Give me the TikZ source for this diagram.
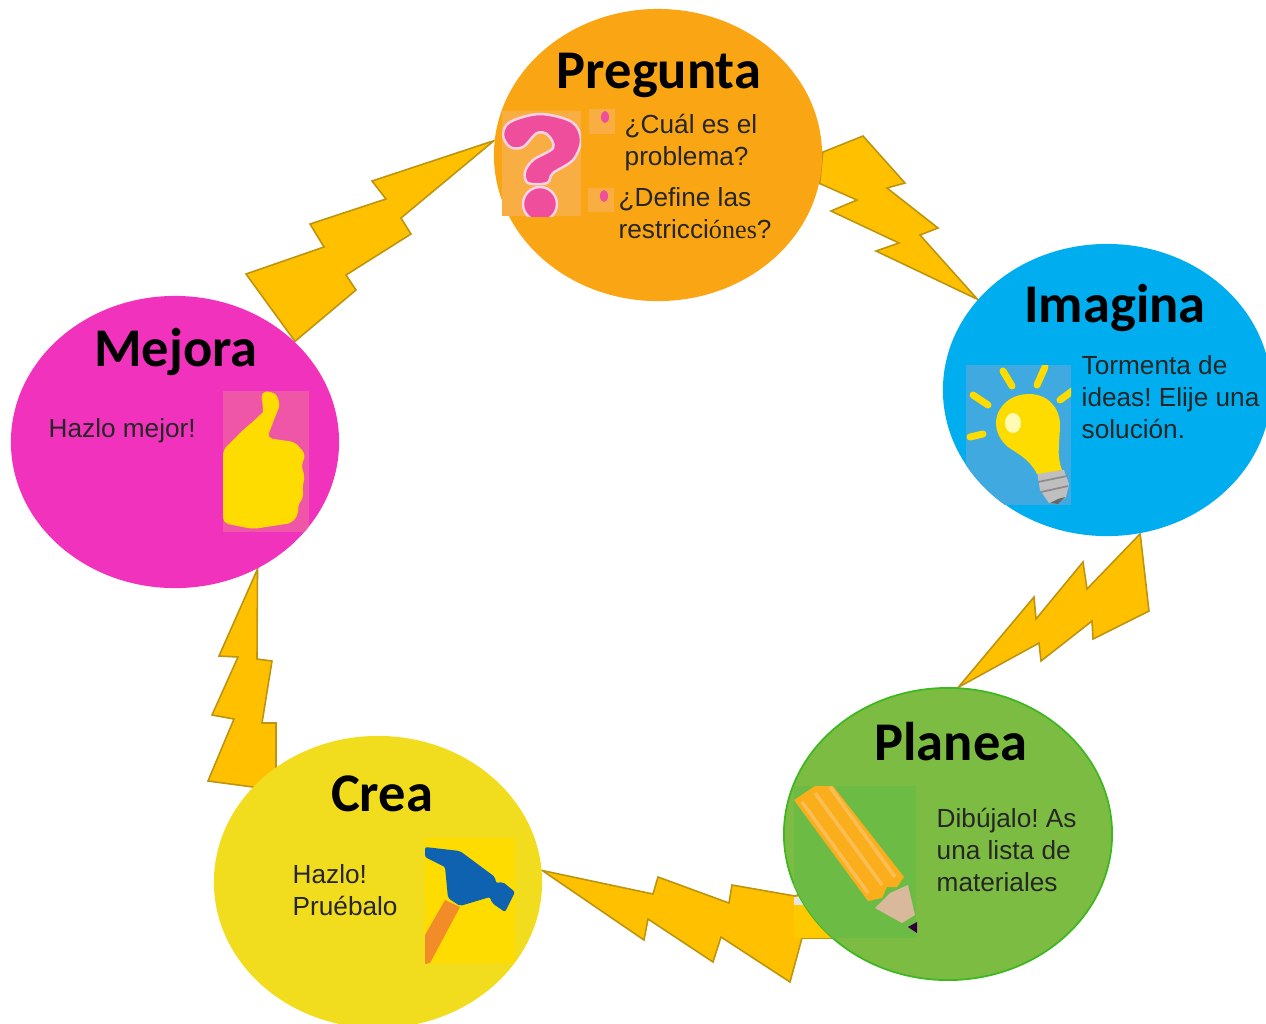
\documentclass[tikz,border=0pt]{standalone}
\usepackage{fontspec}
\setmainfont{Liberation Sans}
\newfontfamily\titlefont{Carlito}
\newfontfamily\oddfont{Liberation Serif}
\usepackage{tikz}
\usetikzlibrary{shapes.geometric, backgrounds}
\definecolor{naranja}{HTML}{FAA614}
\definecolor{azul}{HTML}{00AEEF}
\definecolor{verde}{HTML}{7CBC42}
\definecolor{amarillo}{HTML}{F2DC1E}
\definecolor{magenta}{HTML}{F032BC}
\definecolor{rayo}{HTML}{FFC000}
\definecolor{rayoborde}{HTML}{BC9410}
\definecolor{rosa}{HTML}{EE4E9B}
\definecolor{sol}{HTML}{FFDC00}
\definecolor{fondonaranja}{HTML}{F8AE42}
\definecolor{fondoazul}{HTML}{3FA9E0}
\definecolor{fondoverde}{HTML}{6CBB45}
\definecolor{fondorosa}{HTML}{F056A8}
\definecolor{lapiz}{HTML}{FBAE1C}
\definecolor{lapizclaro}{HTML}{FBBE55}
\definecolor{punta}{HTML}{D9B99B}
\definecolor{martillo}{HTML}{0F62B0}
\definecolor{mango}{HTML}{F28C28}
\tikzset{
  stage/.style = {ellipse, inner sep=0pt, minimum width=3.28cm, minimum height=2.92cm},
  titulo/.style = {font=\titlefont\fontsize{15.5}{18}\selectfont\bfseries, text=black, inner sep=0pt, anchor=base},
  cuerpo/.style = {font=\fontsize{7.45}{9.1}\selectfont\frenchspacing, text=black!85, align=left, anchor=west, inner sep=0pt},
  bolt/.style = {fill=rayo, draw=rayoborde, line width=0.45pt, line join=miter},
  rayito/.style = {draw=sol, line width=0.07cm, line cap=round},
  signo/.style = {fill=rosa, draw=white!75!rosa, line width=0.7pt}
}
\begin{document}
\begin{tikzpicture}[x=0.01cm, y=-0.01cm]
\useasboundingbox (0,0) rectangle (1266,1023);

\node[stage, fill=naranja] (pregunta) at (658,155) {};
\node[stage, fill=azul] (imagina) at (1107,390) {};
\node[stage, fill=verde, draw=green!40!verde!85!black, line width=0.5pt] (planea) at (948,834) {};
\node[stage, fill=amarillo] (crea) at (378,882) {};
\node[stage, fill=magenta] (mejora) at (175,442) {};

\begin{pgfonlayer}{background}
% mejora to pregunta
\draw[bolt] (pregunta.175) -- (372,181) -- (386,199) -- (310,224) -- (324,247) -- (246,274)
  -- (mejora.40) -- (356,290) -- (346,275) -- (411,234) -- (401,218) -- cycle;
% pregunta to imagina
\draw[bolt] (pregunta.1) -- (863,136) -- (905,183) -- (887,188) -- (938,228) -- (920,235)
  -- (imagina.145) -- (876,251) -- (899,243) -- (831,211) -- (857,200) -- (pregunta.-10) -- cycle;
% imagina to planea
\draw[bolt] (imagina.-77) -- (1149,611) -- (1093,639) -- (1092,621) -- (1041,661) -- (1039,643)
  -- (planea.86) -- (1034,597) -- (1036,619) -- (1083,562) -- (1087,589) -- cycle;
% planea to crea
\draw[bolt] (crea.4) -- (653,894) -- (658,877) -- (729,903) -- (732,885) -- (795,896)
  -- (planea.center) -- (840,938) -- (802,938) -- (790,982) -- (721,937) -- (713,962)
  -- (648,919) -- (644,940) -- cycle;
\fill[black!10] (794,897) rectangle (806,906);
\fill[rayo!85!yellow] (794,905) rectangle (840,938);
% crea to mejora
\draw[bolt] (mejora.-57) -- (219,656) -- (238,657) -- (212,715) -- (234,719) -- (208,781)
  -- (253,787) -- (crea.center) -- (276,790) -- (276,723) -- (262,723) -- (272,661) -- (257,659) -- cycle;
\end{pgfonlayer}

% pregunta icon
\fill[fondonaranja] (502,111) rectangle (581,216);
\fill[fondonaranja] (589,109) rectangle (615,134);
\fill[fondonaranja] (588,188) rectangle (614,212);
\fill[rosa] (605,117) ellipse [x radius=4, y radius=6];
\fill[rosa] (604,196) ellipse [x radius=4, y radius=6];
\begin{scope}
\clip (502,111) rectangle (581,216);
\draw[signo] plot[smooth cycle, tension=0.55] coordinates {(503,135) (510,122) (540,114) (572,122) (581,140) (573,160)
  (553,173) (547,183) (528,183) (525,172) (533,160) (553,148) (548,135) (537,133) (523,147) (510,147)};
\draw[signo] (540,204) circle [radius=17];
\end{scope}

% imagina icon
\begin{scope}
\clip (imagina.center) ellipse [x radius=164, y radius=147];
\fill[fondoazul] (966,365) rectangle (1071,505);
\end{scope}
\begin{scope}
\clip (966,365) rectangle (1071,505);
\foreach \xa/\ya/\xb/\yb in {1003/371/1012/386, 1045/367/1037/385, 973/395/988/405, 970/437/983/434, 1060/400/1075/389}
  \draw[rayito] (\xa,\ya) -- (\xb,\yb);
\fill[black!25] (1037,472) -- (1064,470) -- (1069,484) -- (1066,497) -- (1058,504) -- (1049,503) -- (1040,490) -- cycle;
\draw[black!45, line width=0.5pt] (1038,482) -- (1067,476) (1041,492) -- (1068,486);
\fill[black!60] (1050,503) -- (1058,499) -- (1065,497) -- (1058,504) -- cycle;
\fill[sol] (996,422) .. controls (997,405) and (1012,394) .. (1029,394) .. controls (1048,394) and (1060,408) .. (1060,425)
  .. controls (1060,440) and (1056,455) .. (1062,470) -- (1037,474) .. controls (1030,460) and (1020,455) .. (1008,447)
  .. controls (1000,440) and (996,432) .. (996,422) -- cycle;
\fill[yellow!30!white] (1013,423) ellipse [x radius=8, y radius=10];
\end{scope}

% planea icon
\begin{scope}
\clip (planea.center) ellipse [x radius=164, y radius=146];
\fill[fondoverde] (794,786) rectangle (916,938);
\end{scope}
\fill[lapiz] (794,800) -- (815,786) -- (833,786) -- (904,877) -- (897,887) -- (887,887) -- (882,898) -- (868,901) -- cycle;
\draw[lapizclaro, line width=1pt] (802,802) -- (868,893) (815,793) -- (882,885) (830,787) -- (895,877);
\fill[punta] (908,885) -- (915,915) -- (902,923) -- (875,908) -- (890,893) -- cycle;
\fill[black!70!blue!80!red] (917,922) -- (908,927) -- (917,933) -- cycle;

% crea icon
\begin{scope}
\clip (crea.center) ellipse [x radius=164, y radius=146];
\fill[sol] (425,838) rectangle (515,963);
\end{scope}
\fill[mango] (445,900) -- (460,907) -- (430,963) -- (425,964) -- (425,935) -- cycle;
\fill[martillo, rounded corners=0.6pt] (425,847) -- (460,851) -- (495,877) -- (496,883) -- (503,882) -- (515,892) -- (505,912)
  -- (492,903) -- (490,897) -- (460,906) -- (448,898) -- (445,867) -- (425,857) -- cycle;

% mejora icon
\begin{scope}
\clip (mejora.center) ellipse [x radius=164, y radius=146];
\fill[fondorosa] (223,391) rectangle (309,532);
\end{scope}
\fill[sol, rounded corners=1.5pt] (223,450) -- (243,430) .. controls (255,420) and (263,412) .. (263,407) -- (261,392) -- (271,391)
  .. controls (278,396) and (280,405) .. (277,412) -- (267,438) -- (295,442) -- (306,455)
  -- (301,465) -- (305,477) -- (302,488) -- (304,497) -- (297,506) -- (299,513) -- (292,523)
  -- (253,529) -- (223,523) -- cycle;

\node[titulo] (tpregunta) at (659,88) {Pregunta};
\node[titulo] (timagina) at (1115,322) {Imagina};
\node[titulo] (tplanea) at (951,760) {Planea};
\node[titulo] (tcrea) at (382,811) {Crea};
\node[titulo] (tmejora) at (176,366) {Mejora};

\node[cuerpo] (cual) at (624,143) {¿Cuál es el\\problema?};
\node[cuerpo] (define) at (618,213) {¿Define las\\restricci{\oddfont ónes}?};
\node[cuerpo] (ideas) at (1081,397) {Tormenta de\\ideas! Elije una\\solución.};
\node[cuerpo] (dibujo) at (936,850) {Dibújalo! As\\una lista de\\materiales};
\node[cuerpo] (hazlo) at (292,890) {Hazlo!\\Pruébalo};
\node[cuerpo] (mejor) at (48,431) {Hazlo\ mejor!};

\end{tikzpicture}
\end{document}
